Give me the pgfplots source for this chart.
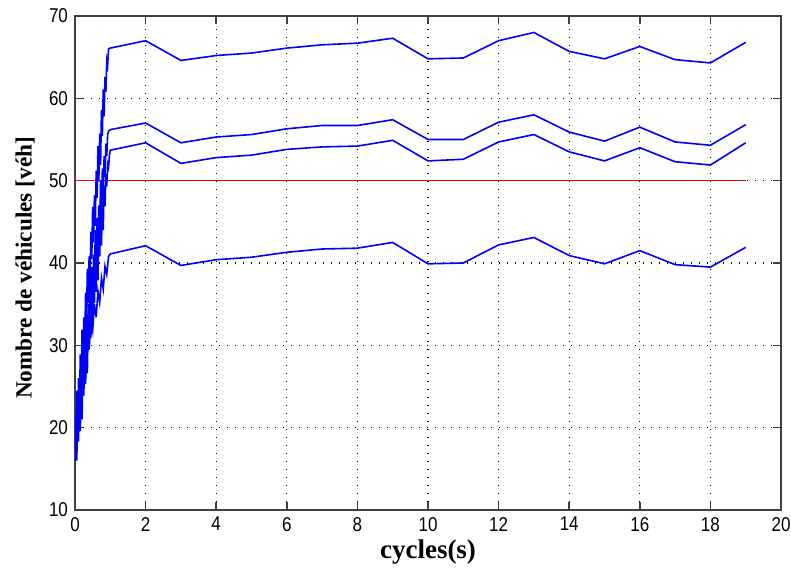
\documentclass[border=0pt]{standalone}
\usepackage{fontspec}
\setmainfont{Liberation Serif}
\newfontfamily\tickfont[FakeStretch=0.85]{Liberation Sans}
\usepackage{pgfplots}
\pgfplotsset{compat=1.18}
\usetikzlibrary{calc}
\definecolor{mblue}{RGB}{0,0,255}
\definecolor{mred}{RGB}{255,0,0}
\begin{document}
\begin{tikzpicture}
\begin{axis}[
  name=ax,
  width=353pt, height=247pt, scale only axis,
  xmin=0, xmax=20, ymin=10, ymax=70,
  xtick={0,2,...,20}, ytick={10,20,...,70},
  grid=major,
  major grid style={black, line width=0.6pt, dash pattern=on 0.6pt off 3.4pt},
  tick align=inside, tick pos=both, major tick length=4pt,
  axis line style={line width=0.9pt, black!75},
  tick style={black!75, line width=0.8pt},
  ticklabel style={font=\tickfont\fontsize{10}{10}\selectfont},
  /pgf/number format/assume math mode=true,
  xlabel={cycles(s)},
  ylabel={Nombre de véhicules [véh]},
  xlabel style={font=\fontsize{13.5}{13.5}\selectfont\bfseries, at={(axis description cs:0.5,-0.086)}, anchor=center},
  ylabel style={font=\fontsize{11.6}{11.6}\selectfont\bfseries, at={(axis description cs:-0.0708,0.49)}, anchor=center},
]
\addplot[mred, line width=0.75pt] coordinates {(0,50) (19,50)};
% line A
\addplot[mblue, line width=0.8pt] coordinates {
(0,17) (0.025,17.7) (0.05,24.5) (0.075,20.2) (0.1,26.0) (0.125,22.2) (0.15,28.9) (0.175,25.7)
(0.2,31.9) (0.225,27.6) (0.25,33.4) (0.275,29.6) (0.3,36.4) (0.325,33.1) (0.35,39.3) (0.375,35.1)
(0.4,40.8) (0.425,37.0) (0.45,43.8) (0.475,40.5) (0.5,46.8) (0.525,42.5) (0.55,48.2) (0.575,44.5)
(0.6,51.2) (0.625,47.9) (0.65,54.2) (0.675,49.9) (0.7,55.7) (0.725,51.9) (0.75,58.6) (0.775,55.4)
(0.8,61.1) (0.825,57.8) (0.85,62.6) (0.875,60.8) (0.9,64.6) (0.925,64.0) (0.95,66.0)
(1,66.1) (2,67.0) (3,64.6) (4,65.2) (5,65.5) (6,66.1) (7,66.5) (8,66.7) (9,67.3) (10,64.8)
(11,64.9) (12,67.0) (13,68.0) (14,65.7) (15,64.8) (16,66.3) (17,64.7) (18,64.3) (19,66.8)};
% line B
\addplot[mblue, line width=0.8pt] coordinates {
(0,16.5) (0.025,21.5) (0.05,17.0) (0.075,23.0) (0.1,19.5) (0.125,26.0) (0.15,22.0) (0.175,27.5)
(0.2,23.0) (0.225,29.0) (0.25,25.5) (0.275,32.0) (0.3,28.0) (0.325,33.5) (0.35,29.0) (0.375,35.0)
(0.4,31.5) (0.425,38.0) (0.45,34.0) (0.475,39.5) (0.5,35.0) (0.525,41.0) (0.55,37.5) (0.575,44.0)
(0.6,40.0) (0.625,45.5) (0.65,41.0) (0.675,47.0) (0.7,43.5) (0.725,50.0) (0.75,46.0) (0.775,51.5)
(0.8,47.5) (0.825,53.0) (0.85,50.5) (0.875,54.5) (0.9,53.0) (0.925,55.6) (0.95,56.0)
(1,56.2) (2,57.0) (3,54.6) (4,55.3) (5,55.6) (6,56.3) (7,56.7) (8,56.7) (9,57.4) (10,55.0)
(11,55.0) (12,57.1) (13,58.0) (14,55.9) (15,54.8) (16,56.5) (17,54.7) (18,54.3) (19,56.8)};
% line C
\addplot[mblue, line width=0.8pt] coordinates {
(0,16.0) (0.025,19.4) (0.05,16.0) (0.075,21.8) (0.1,18.3) (0.125,24.2) (0.15,19.6) (0.175,25.1)
(0.2,21.0) (0.225,27.4) (0.25,23.9) (0.275,29.8) (0.3,25.3) (0.325,30.7) (0.35,26.6) (0.375,33.1)
(0.4,29.5) (0.425,35.4) (0.45,30.9) (0.475,36.3) (0.5,32.3) (0.525,38.7) (0.55,35.1) (0.575,41.1)
(0.6,36.5) (0.625,41.9) (0.65,37.9) (0.675,44.3) (0.7,40.8) (0.725,46.7) (0.75,42.1) (0.775,47.6)
(0.8,44.0) (0.825,49.4) (0.85,46.9) (0.875,50.8) (0.9,49.3) (0.925,52.0) (0.95,51.6) (0.975,53.1)
(1,53.7) (2,54.6) (3,52.1) (4,52.8) (5,53.1) (6,53.8) (7,54.1) (8,54.2) (9,54.9) (10,52.4)
(11,52.6) (12,54.7) (13,55.6) (14,53.5) (15,52.4) (16,54.0) (17,52.3) (18,51.9) (19,54.6)};
% line D
\addplot[mblue, line width=0.8pt] coordinates {
(0,18.0) (0.05,22.0) (0.1,20.5) (0.15,25.0) (0.2,23.5) (0.25,28.0) (0.3,26.6) (0.35,31.0)
(0.4,29.5) (0.45,33.2) (0.5,31.8) (0.55,35.0) (0.6,33.4) (0.65,36.6) (0.7,35.2) (0.75,38.2)
(0.8,36.8) (0.85,39.6) (0.9,38.6) (0.95,40.8)
(1,41.1) (2,42.1) (3,39.7) (4,40.4) (5,40.7) (6,41.3) (7,41.7) (8,41.8) (9,42.5) (10,39.9)
(11,40.0) (12,42.2) (13,43.1) (14,40.9) (15,39.9) (16,41.5) (17,39.8) (18,39.5) (19,41.9)};
\end{axis}
\pgfresetboundingbox
\path[use as bounding box] ($(ax.south west)+(-37.5pt,-29.5pt)$) rectangle ($(ax.north east)+(5pt,8pt)$);
\end{tikzpicture}
\end{document}
